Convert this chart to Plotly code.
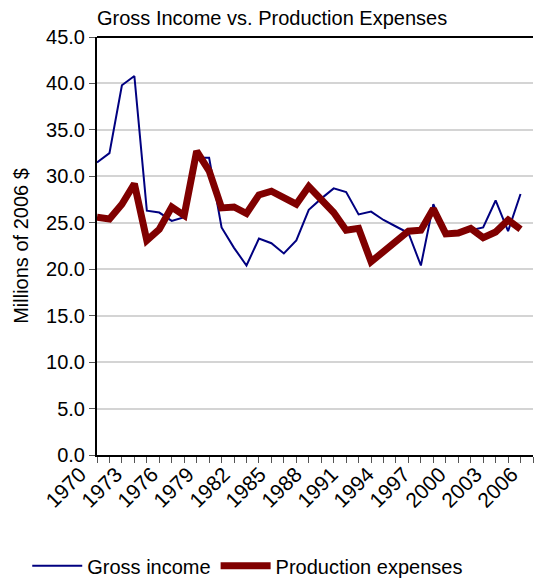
# gross income vs production expenses
from plotly.graph_objects import Figure, Scatter

# data (millions of 2006 $)
years = list(range(1970, 2005))
gross_income = [
    31.5, 32.5, 39.8, 40.8, 26.3, 26.1, 25.2, 25.6, 32.0, 32.0,
    24.5, 22.3, 20.4, 23.3, 22.8, 21.7, 23.1, 26.4, 27.6, 28.7,
    28.3, 25.9, 26.2, 25.3, 24.6, 23.9, 20.4, 27.0, 23.8, 23.9,
    24.2, 24.5, 27.4, 24.1, 28.1,
]
production_expenses = [
    25.6, 25.4, 27.0, 29.2, 23.1, 24.3, 26.7, 25.8, 32.7, 30.6,
    26.6, 26.7, 26.0, 28.0, 28.4, 27.8, 27.0, 28.9, 27.6, 26.1,
    24.2, 24.4, 20.8, 21.9, 23.1, 24.1, 24.2, 26.5, 23.8, 23.9,
    24.4, 23.4, 24.0, 25.3, 24.3,
]
label_years = list(range(1970, 2007, 3))

font = 'Liberation Sans, Arial, sans-serif'

# the page body has an 8px margin, so the figure is 8px smaller each way
W, H = 535, 574

## init figure
fig = Figure()

## add traces
fig.add_trace(Scatter(x=years, y=gross_income, name='Gross income',
                      mode='lines', line=dict(color='#000080', width=2)))
fig.add_trace(Scatter(x=years, y=production_expenses, name='Production expenses',
                      mode='lines', line=dict(color='#800000', width=7)))
# empty trace so the label axis gets drawn
fig.add_trace(Scatter(x=label_years, y=[None] * len(label_years), xaxis='x2',
                      showlegend=False, hoverinfo='skip'))

## layout
fig.update_layout(dict(
    width=W,
    height=H,
    paper_bgcolor='white',
    plot_bgcolor='white',
    font=dict(family=font, size=20, color='black'),
    margin=dict(l=89, r=10, t=29, b=127, autoexpand=False),
    title=dict(
        text='Gross Income vs. Production Expenses',
        font=dict(size=20),
        x=89 / W, xanchor='left',
        y=1 - 10 / H, yanchor='middle',
    ),
    xaxis=dict(
        range=[1970, 2005],
        tickmode='linear', tick0=1970, dtick=1,
        ticks='outside', ticklen=6, tickcolor='#555', tickwidth=1,
        showticklabels=False,
        showgrid=False, zeroline=False,
        showline=True, linecolor='black', linewidth=2,
    ),
    xaxis2=dict(
        overlaying='x', anchor='y', side='bottom',
        range=[1970, 2006.35],
        tickmode='array', tickvals=label_years,
        ticktext=[str(y) for y in label_years],
        tickangle=-45, ticks='',
        ticklabelshift=-17, ticklabelstandoff=2,
        showgrid=False, zeroline=False, showline=False,
        tickfont=dict(size=21),
    ),
    yaxis=dict(
        title=dict(text='Millions of 2006 $', font=dict(size=20), standoff=12),
        range=[0, 45],
        tickmode='linear', tick0=0, dtick=5, tickformat='.1f',
        ticks='outside', ticklen=6, tickcolor='#555',
        showgrid=True, gridcolor='#d4d4d4', gridwidth=2,
        zeroline=False,
        showline=True, linecolor='black', linewidth=2,
    ),
    shapes=[dict(type='line', xref='paper', yref='paper', x0=0, x1=1, y0=1, y1=1,
                 line=dict(color='black', width=2))],
    legend=dict(
        orientation='h',
        x=-0.16, xanchor='left',
        y=-0.265, yanchor='middle',
        font=dict(size=20),
        itemwidth=50,
        bgcolor='rgba(0,0,0,0)',
    ),
    showlegend=True,
))

## write
fig.write_html('out.html')
